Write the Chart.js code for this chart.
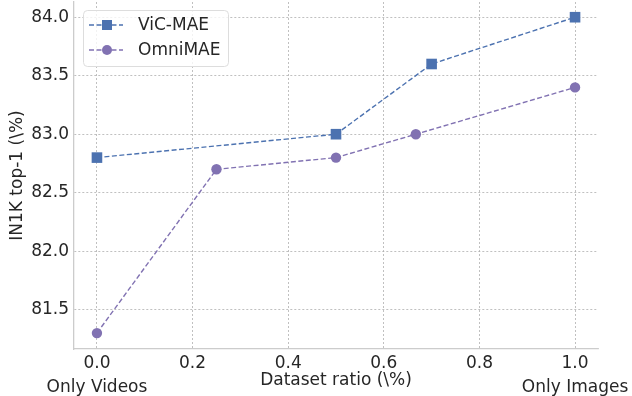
<!DOCTYPE html>
<html><head><meta charset="utf-8">
<script src="https://cdn.jsdelivr.net/npm/chart.js@4.4.0/dist/chart.umd.min.js"></script>
<style>html,body{margin:0;padding:0;background:#fff;}#wrap{width:632px;height:396px;position:relative;}</style>
</head><body><div id="wrap"><canvas id="c" width="632" height="396"></canvas></div>
<script>
const seriesNames = ["ViC-MAE", "OmniMAE"];
const vicX = [0.0, 0.5, 0.7, 1.0];
const vicY = [82.8, 83.0, 83.6, 84.0];
const omniX = [0.0, 0.25, 0.5, 0.667, 1.0];
const omniY = [81.3, 82.7, 82.8, 83.0, 83.4];
const xTitle = "Dataset ratio (\\%)";
const yTitle = "IN1K top-1 (\\%)";
const endLabels = [{x: 0.0, text: "Only Videos"}, {x: 1.0, text: "Only Images"}];

const colors = ["#4c72b0", "#8172b2"];
const FONT = "'DejaVu Sans', sans-serif";
const TXT = "#262626";

const toPts = (xs, ys) => xs.map((x, i) => ({x: x, y: ys[i]}));

const legendPlugin = {
  id: 'inLegend',
  afterDatasetsDraw(chart) {
    const ctx = chart.ctx;
    const a = chart.chartArea;
    const x0 = a.left + 9, y0 = a.top + 8, w = 145, h = 56;
    ctx.save();
    ctx.fillStyle = 'rgba(255,255,255,0.8)';
    ctx.strokeStyle = '#dddddd';
    ctx.lineWidth = 1;
    ctx.beginPath();
    ctx.roundRect(x0 + 0.5, y0 + 0.5, w, h, 4);
    ctx.fill(); ctx.stroke();
    chart.data.datasets.forEach((ds, i) => {
      const cy = y0 + 15 + i * 25;
      ctx.strokeStyle = ds.borderColor;
      ctx.lineWidth = 1.4;
      ctx.setLineDash([5, 2.5]);
      ctx.beginPath(); ctx.moveTo(x0 + 6, cy); ctx.lineTo(x0 + 40, cy); ctx.stroke();
      ctx.setLineDash([]);
      ctx.fillStyle = ds.backgroundColor;
      if (ds.pointStyle === 'rect') {
        ctx.fillRect(x0 + 24 - 5, cy - 5, 10, 10);
      } else {
        ctx.beginPath(); ctx.arc(x0 + 24, cy, 5, 0, Math.PI * 2); ctx.fill();
      }
      ctx.fillStyle = TXT;
      ctx.font = "17px " + FONT;
      ctx.textBaseline = 'middle';
      ctx.textAlign = 'left';
      ctx.fillText(ds.label, x0 + 55, cy + 1);
    });
    ctx.restore();
  }
};

const endLabelPlugin = {
  id: 'endLabels',
  afterDraw(chart) {
    const ctx = chart.ctx;
    const xs = chart.scales.x;
    ctx.save();
    ctx.fillStyle = TXT;
    ctx.font = "17px " + FONT;
    ctx.textBaseline = 'middle';
    ctx.textAlign = 'center';
    endLabels.forEach((e) => {
      ctx.fillText(e.text, xs.getPixelForValue(e.x), 388);
    });
    ctx.restore();
  }
};

new Chart(document.getElementById('c'), {
  type: 'scatter',
  data: {
    datasets: [
      {label: seriesNames[0], data: toPts(vicX, vicY), showLine: true, borderColor: colors[0], backgroundColor: colors[0],
       borderWidth: 1.4, borderDash: [5, 2.5], pointStyle: 'rect', pointRadius: 7.5, pointHoverRadius: 7.5, pointBorderWidth: 0},
      {label: seriesNames[1], data: toPts(omniX, omniY), showLine: true, borderColor: colors[1], backgroundColor: colors[1],
       borderWidth: 1.4, borderDash: [5, 2.5], pointStyle: 'circle', pointRadius: 5.2, pointHoverRadius: 5.2, pointBorderWidth: 0}
    ]
  },
  options: {
    responsive: false,
    animation: false,
    layout: {autoPadding: false, padding: {top: 2, right: 34, bottom: 0, left: 0}},
    plugins: {legend: {display: false}, tooltip: {enabled: false}},
    scales: {
      x: {
        type: 'linear', min: -0.048, max: 1.048,
        afterFit(s) { s.height = 47; s.paddingLeft = 0; s.paddingRight = 0; },
        ticks: {stepSize: 0.2, includeBounds: false, color: TXT, font: {family: FONT, size: 17}, padding: 4,
                callback: v => v.toFixed(1)},
        grid: {color: '#b0b0b0', lineWidth: 0.8, drawTicks: false},
        border: {display: true, color: '#cccccc', width: 1.3, dash: [2, 2]},
        title: {display: true, text: xTitle, color: TXT, font: {family: FONT, size: 17}, padding: {top: 0, bottom: 5}}
      },
      y: {
        type: 'linear', min: 81.164, max: 84.13,
        afterFit(s) { s.width = 74; s.paddingTop = 0; s.paddingBottom = 0; },
        ticks: {stepSize: 0.5, includeBounds: false, color: TXT, font: {family: FONT, size: 17}, padding: 5,
                callback: v => v.toFixed(1)},
        grid: {color: '#b0b0b0', lineWidth: 0.8, drawTicks: false},
        border: {display: true, color: '#cccccc', width: 1.3, dash: [2, 2]},
        title: {display: true, text: yTitle, color: TXT, font: {family: FONT, size: 17}, padding: {top: 7, bottom: 0}}
      }
    }
  },
  plugins: [legendPlugin, endLabelPlugin]
});
</script></body></html>
